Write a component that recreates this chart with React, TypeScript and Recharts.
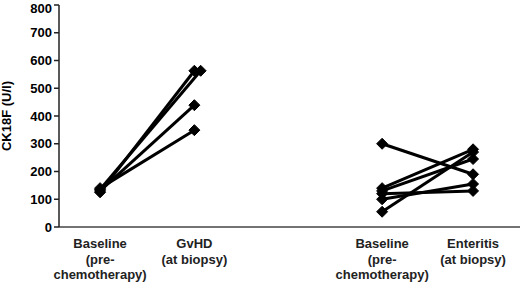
import { Line, LineChart, XAxis, YAxis } from "recharts"

// category labels and where they sit on the numeric x scale
const CATEGORIES = [
  "Baseline\n(pre-\nchemotherapy)",
  "GvHD\n(at biopsy)",
  "Baseline\n(pre-\nchemotherapy)",
  "Enteritis\n(at biopsy)",
]
const CATEGORY_X = [0.98, 3.23, 7.71, 9.88]
// small horizontal jitter of the GvHD points (one diamond sits beside another)
const GVHD_JITTER = [0, 0.15, 0, 0]

// CK18F (U/l) per patient
const GVHD_BASELINE = [125, 135, 130, 140]
const GVHD_BIOPSY = [563, 563, 439, 349]
const ENTERITIS_BASELINE = [300, 140, 130, 55, 100, 120]
const ENTERITIS_BIOPSY = [190, 280, 245, 270, 155, 130]

const Y_TICKS = [0, 100, 200, 300, 400, 500, 600, 700, 800]

const FONT = "'Liberation Sans', Arial, sans-serif"

const pairs = [
  ...GVHD_BASELINE.map((v, i) => [
    { x: CATEGORY_X[0], y: v },
    { x: CATEGORY_X[1] + GVHD_JITTER[i], y: GVHD_BIOPSY[i] },
  ]),
  ...ENTERITIS_BASELINE.map((v, i) => [
    { x: CATEGORY_X[2], y: v },
    { x: CATEGORY_X[3], y: ENTERITIS_BIOPSY[i] },
  ]),
]

function Diamond(props: any) {
  const { cx, cy } = props
  if (cx == null || cy == null) return null
  const r = 5.5
  return (
    <polygon
      points={`${cx},${cy - r} ${cx + r},${cy} ${cx},${cy + r} ${cx - r},${cy}`}
      fill="#000"
      stroke="#000"
      strokeWidth={1}
    />
  )
}

function CategoryTick(props: any) {
  const { x, y, payload } = props
  const idx = CATEGORY_X.indexOf(payload.value)
  if (idx < 0) return null
  const lines = CATEGORIES[idx].split("\n")
  return (
    <text
      x={x}
      y={y}
      textAnchor="middle"
      fontFamily={FONT}
      fontWeight="bold"
      fontSize={13}
      fill="#222"
    >
      {lines.map((l, i) => (
        <tspan key={i} x={x} dy={i === 0 ? 21 : 15.5}>
          {l}
        </tspan>
      ))}
    </text>
  )
}

export default function App() {
  return (
    <div style={{ position: "absolute", left: 0, top: 0, background: "#fff" }}>
      <LineChart
        width={520}
        height={286}
        margin={{ top: 5, right: 0, left: 0, bottom: 5 }}
      >
        <XAxis
          type="number"
          dataKey="x"
          domain={[0, 11]}
          ticks={CATEGORY_X}
          allowDataOverflow
          height={54}
          tickLine={false}
          tickSize={0}
          tickMargin={0}
          stroke="#444"
          strokeWidth={1.5}
          tick={<CategoryTick />}
        />
        <YAxis
          type="number"
          domain={[0, 800]}
          ticks={Y_TICKS}
          width={59}
          tickSize={5}
          tickMargin={2}
          stroke="#222"
          strokeWidth={1.5}
          tick={{ fontSize: 13, fontWeight: "bold", fill: "#000", fontFamily: FONT }}
          label={{
            value: "CK18F (U/l)",
            angle: -90,
            position: "insideLeft",
            dx: 1,
            style: { fontSize: 13, fontWeight: "bold", fill: "#000", fontFamily: FONT, textAnchor: "middle" },
          }}
        />
        {pairs.map((d, i) => (
          <Line
            key={i}
            data={d}
            dataKey="y"
            stroke="#000"
            strokeWidth={3}
            dot={<Diamond />}
            activeDot={false}
            isAnimationActive={false}
          />
        ))}
      </LineChart>
    </div>
  )
}
